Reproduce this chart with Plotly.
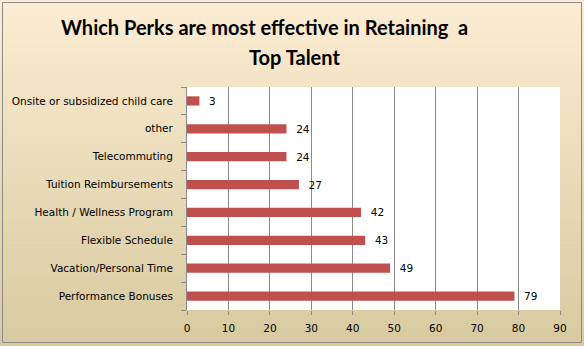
import plotly.graph_objects as go

categories = ["Performance Bonuses", "Vacation/Personal Time", "Flexible Schedule",
              "Health / Wellness Program", "Tuition Reimbursements", "Telecommuting",
              "other", "Onsite or subsidized child care"]
values = [79, 49, 43, 42, 27, 24, 24, 3]
x_ticks = [0, 10, 20, 30, 40, 50, 60, 70, 80, 90]
title_lines = ["Which Perks are most effective in Retaining  a", "Top Talent"]

W, H = 584, 346
L, R, T, B = 187, 24, 87, 36
pw, ph = W - L - R, H - T - B

def fx(px):
    return (px - L) / pw

def fy(py):
    return 1 - (py - T) / ph

fig = go.Figure()
fig.add_trace(go.Bar(
    y=categories, x=values, orientation="h",
    marker=dict(color="#C0504D", line=dict(width=0)),
    width=0.33,
    text=["  " + str(v) for v in values], textposition="outside",
    constraintext="none",
    textfont=dict(family="DejaVu Sans", size=10.5, color="#000000"),
    cliponaxis=False,
))

# gradient background strips
shapes = []
n = 40
c0 = (252, 236, 210)
c1 = (216, 202, 160)
for i in range(n):
    t = i / (n - 1)
    c = tuple(int(round(c0[k] + (c1[k] - c0[k]) * t)) for k in range(3))
    y0 = i * H / n
    y1 = (i + 1) * H / n + 0.5
    shapes.append(dict(type="rect", xref="paper", yref="paper", layer="below",
                       x0=fx(0), x1=fx(W), y0=fy(y0), y1=fy(y1),
                       fillcolor="rgb(%d,%d,%d)" % c, line=dict(width=0)))
shapes.append(dict(type="rect", xref="paper", yref="paper", layer="below",
                   x0=0, x1=1, y0=0, y1=1, fillcolor="white", line=dict(width=0)))
shapes.append(dict(type="rect", xref="paper", yref="paper", layer="above",
                   x0=fx(2.5), x1=fx(581.5), y0=fy(2.5), y1=fy(342.5),
                   fillcolor="rgba(0,0,0,0)", line=dict(color="#8C8C8C", width=1)))

annotations = [
    dict(text="<b>%s</b>" % title_lines[0], xref="paper", yref="paper",
         x=fx(264), y=fy(27), xanchor="center", yanchor="middle", showarrow=False,
         font=dict(family="Lato", size=20, color="#000000")),
    dict(text="<b>%s</b>" % title_lines[1], xref="paper", yref="paper",
         x=fx(294), y=fy(57), xanchor="center", yanchor="middle", showarrow=False,
         font=dict(family="Lato", size=20, color="#000000")),
]

fig.update_layout(
    width=W, height=H,
    margin=dict(l=L, r=R, t=T, b=B, autoexpand=False),
    paper_bgcolor="rgba(0,0,0,0)",
    plot_bgcolor="rgba(0,0,0,0)",
    showlegend=False,
    shapes=shapes,
    annotations=annotations,
    xaxis=dict(
        range=[0, 90], tickvals=x_ticks, ticktext=[str(v) for v in x_ticks],
        showgrid=True, gridcolor="#8A8A8A", gridwidth=1,
        ticks="outside", ticklen=4, tickcolor="#8A8A8A",
        showline=False, zeroline=False, ticklabelstandoff=4,
        tickfont=dict(family="DejaVu Sans", size=10.5, color="#000000"),
    ),
    yaxis=dict(
        categoryorder="array", categoryarray=categories,
        showline=True, linecolor="#8A8A8A", linewidth=1,
        ticks="outside", ticklen=5, tickcolor="#8A8A8A", tickson="boundaries",
        showgrid=False, zeroline=False, ticklabelstandoff=11,
        tickfont=dict(family="DejaVu Sans", size=10.5, color="#000000"),
    ),
)

fig.write_html("out.html")
